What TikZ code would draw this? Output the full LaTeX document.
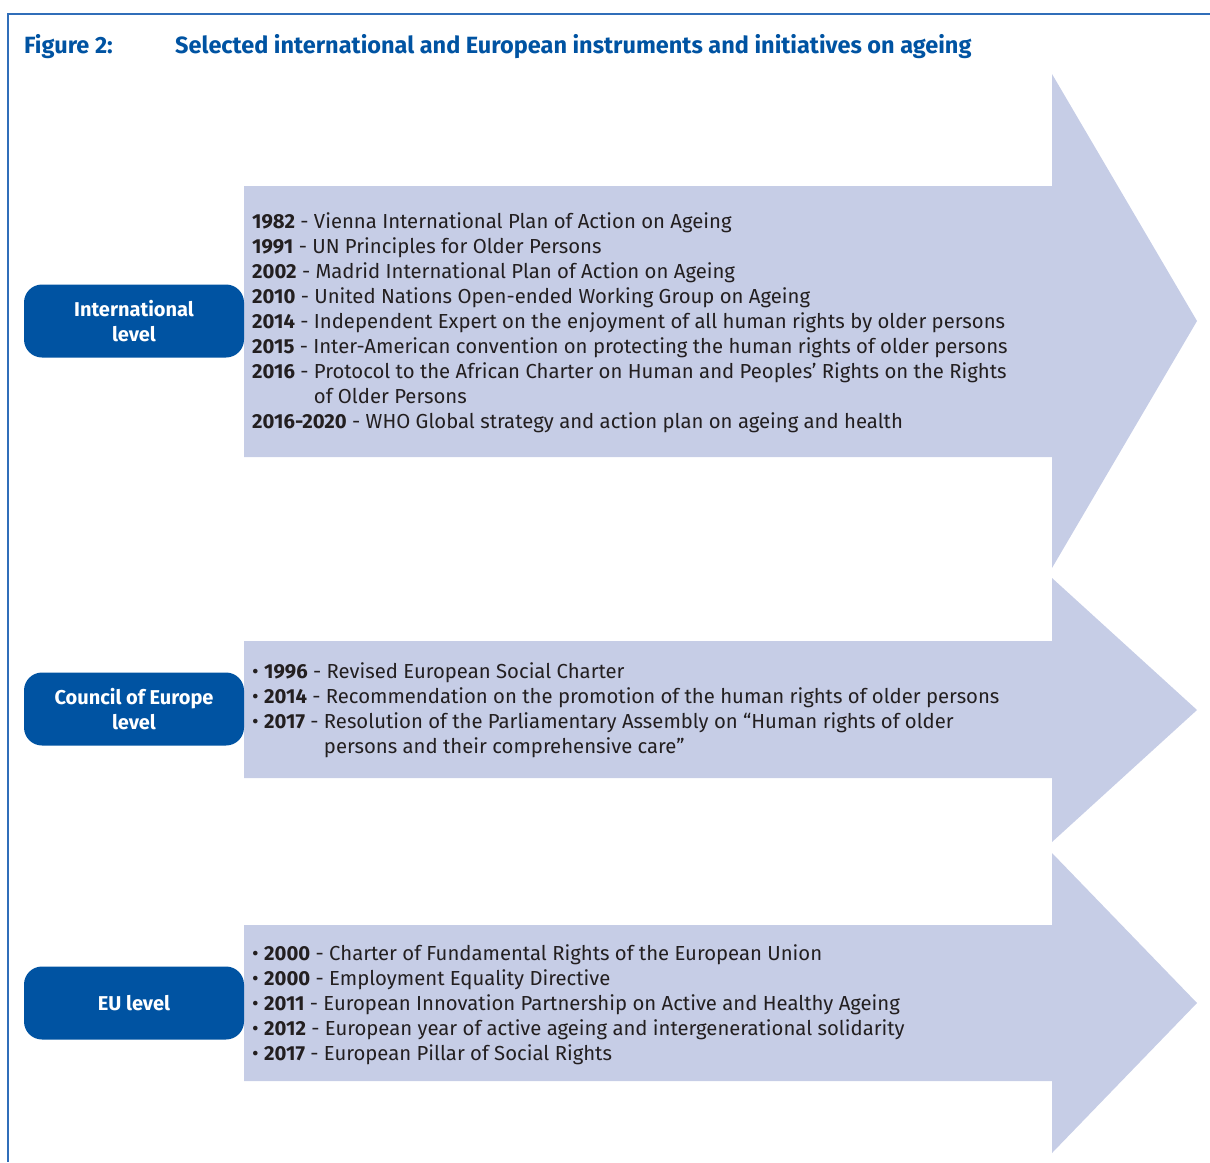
\documentclass[tikz,border=0pt]{standalone}
\usepackage{fontspec}
\setmainfont{Fira Sans}
\definecolor{frameblue}{RGB}{48,110,185}
\definecolor{levelblue}{RGB}{0,83,162}
\definecolor{arrowfill}{RGB}{198,205,230}
\definecolor{itemtext}{RGB}{35,31,32}

\begin{document}
\begin{tikzpicture}[x=1pt,y=-1pt,
    level/.style={fill=levelblue,text=white,rounded corners=18pt,minimum width=220pt,
      minimum height=73pt,inner sep=0pt,align=center,font=\fontsize{20}{25}\selectfont\bfseries},
    items/.style={anchor=north west,inner sep=0pt,align=left,text=itemtext,
      font=\fontsize{20.3}{25}\selectfont},
    heading/.style={anchor=base west,inner sep=0pt,text=levelblue,
      font=\fontsize{23.5}{28}\selectfont\bfseries}
    ]
    \useasboundingbox (0,0) rectangle (1210,1162);

    % frame
    \draw [frameblue,line width=1.2pt] (1210,14) -- (8,14) -- (8,1162);

    % title
    \node (fig) [heading] at (24,53) {Figure 2:};
    \node (title) [heading] at (175,53) {Selected international and European instruments and initiatives on ageing};

    % arrows
    \fill [arrowfill] (244,186) -- (1052,186) -- (1052,74) -- (1197,321) -- (1052,568) -- (1052,457) -- (244,457) -- cycle;
    \fill [arrowfill] (244,641) -- (1052,641) -- (1052,578) -- (1197,710) -- (1052,842) -- (1052,778) -- (244,778) -- cycle;
    \fill [arrowfill] (244,925) -- (1052,925) -- (1052,853) -- (1197,1003) -- (1052,1153) -- (1052,1081) -- (244,1081) -- cycle;

    % levels
    \node (intl) [level] at (134,321) {International\\level};
    \node (coe) [level] at (134,709) {Council of Europe\\level};
    \node (eu) [level] at (134,1003) {EU level};

    % items
    \node (intlitems) [items] at (252,212) {%
      \textbf{1982} - Vienna International Plan of Action on Ageing\\
      \textbf{1991} - UN Principles for Older Persons\\
      \textbf{2002} - Madrid International Plan of Action on Ageing\\
      \textbf{2010} - United Nations Open-ended Working Group on Ageing\\
      \textbf{2014} - Independent Expert on the enjoyment of all human rights by older persons\\
      \textbf{2015} - Inter-American convention on protecting the human rights of older persons\\
      \textbf{2016} - Protocol to the African Charter on Human and Peoples’ Rights on the Rights\\
      \phantom{\textbf{2016} - }of Older Persons\\
      \textbf{2016-2020} - WHO Global strategy and action plan on ageing and health};
    \node (coeitems) [items] at (252,662) {%
      • \textbf{1996} - Revised European Social Charter\\
      • \textbf{2014} - Recommendation on the promotion of the human rights of older persons\\
      • \textbf{2017} - Resolution of the Parliamentary Assembly on “Human rights of older\\
      \phantom{• \textbf{2017} - }persons and their comprehensive care”};
    \node (euitems) [items] at (252,944) {%
      • \textbf{2000} - Charter of Fundamental Rights of the European Union\\
      • \textbf{2000} - Employment Equality Directive\\
      • \textbf{2011} - European Innovation Partnership on Active and Healthy Ageing\\
      • \textbf{2012} - European year of active ageing and intergenerational solidarity\\
      • \textbf{2017} - European Pillar of Social Rights};

  \end{tikzpicture}
\end{document}
